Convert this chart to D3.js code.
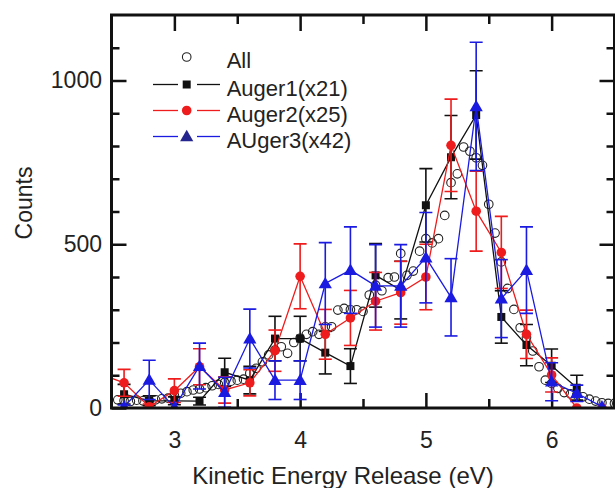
<!DOCTYPE html>
<html><head><meta charset="utf-8">
<script src="https://cdn.jsdelivr.net/npm/d3@7"></script>
<style>body{margin:0;background:#fff}</style>
</head><body><svg id="c" width="615" height="488"></svg>
<script>
// ---- data ----
const xAll = [2.55,2.60,2.65,2.70,2.75,2.80,2.85,2.90,2.95,3.00,3.05,3.10,3.15,3.20,3.25,3.30,3.35,3.40,3.45,3.50,
  3.55,3.60,3.65,3.70,3.75,3.80,3.85,3.90,3.95,4.00,4.05,4.10,4.15,4.20,4.25,4.30,4.35,4.40,4.45,4.50,
  4.55,4.60,4.65,4.70,4.75,4.80,4.85,4.90,4.95,5.00,5.05,5.10,5.15,5.20,5.25,5.30,5.35,5.40,5.45,5.50,
  5.55,5.60,5.65,5.70,5.75,5.80,5.85,5.90,5.95,6.00,6.05,6.10,6.15,6.20,6.25,6.30,6.35,6.40,6.45,6.50];
const allCounts = [25,22,20,24,22,22,25,28,30,38,45,50,55,58,62,68,72,78,82,85,
  88,106,121,141,162,177,187,167,200,213,225,233,225,248,248,299,304,300,300,295,
  345,375,358,398,400,472,405,418,479,517,504,517,588,688,715,797,784,764,741,622,
  534,446,365,301,245,215,174,126,85,75,60,47,43,40,34,27,21,16,14,14];

const xAuger = [2.4,2.6,2.8,3.0,3.2,3.4,3.6,3.8,4.0,4.2,4.4,4.6,4.8,5.0,5.2,5.4,5.6,5.8,6.0,6.2,6.4];
const auger1    = [null,42,22,22,21,109,85,212,212,169,128,405,360,619,766,895,278,192,129,62,null];
const auger1Err = [null,30,15,12,12,43,42,68,68,65,53,97,88,112,127,135,80,63,51,38,null];
const auger2    = [105,77,4,53,126,55,77,175,402,225,275,326,352,400,802,601,475,225,101,0,0];
const auger2Err = [null,41,8,36,55,40,40,63,99,76,84,88,96,100,141,122,110,74,52,0,0];
const auger3    = [null,4,86,2,128,48,212,85,85,380,421,373,373,459,338,921,334,421,80,45,4];
const auger3Err = [null,5,60,0,70,46,90,59,59,125,132,126,126,138,118,196,119,132,58,25,0];

const seriesNames = ["All","Auger1(x21)","Auger2(x25)","AUger3(x42)"];
const seriesColors = ["#111111","#111111","#ee1c1c","#1a1ae0"];
const xMajorTicks = [3,4,5,6];
const xMinorTicks = [3.5,4.5,5.5];
const yMajorTicks = [0,500,1000];
const yMinorTicks = [100,200,300,400,600,700,800,900,1100];
const xTitle = "Kinetic Energy Release (eV)";
const yTitle = "Counts";

// ---- layout ----
const L = 111.5, R = 614.5, T = 15, B = 408;
const FONT = "'Liberation Sans', Arial, Helvetica, sans-serif";
const svg = d3.select("#c");
const x = d3.scaleLinear().domain([2.5, 6.5]).range([L, R]);
const y = d3.scaleLinear().domain([0, 1200]).range([B, T]);

svg.append("defs").append("clipPath").attr("id","clip")
  .append("rect").attr("x",L).attr("y",T).attr("width",R-L).attr("height",B-T);

// ---- axes (ticks inward) ----
function styleAxis(g){
  g.select(".domain").remove();
  g.selectAll(".tick line").attr("stroke","#111").attr("stroke-width",2.5);
  g.selectAll("text").attr("font-family",FONT).attr("font-size",23).attr("fill","#222");
}
svg.append("g").attr("transform",`translate(0,${B})`)
  .call(d3.axisBottom(x).tickValues(xMajorTicks).tickSize(-15).tickPadding(24).tickFormat(d3.format("d")))
  .call(styleAxis);
svg.append("g").attr("transform",`translate(0,${B})`)
  .call(d3.axisBottom(x).tickValues(xMinorTicks).tickSize(-9).tickFormat(""))
  .call(styleAxis);
svg.append("g").attr("transform",`translate(0,${T})`)
  .call(d3.axisTop(x).tickValues(xMajorTicks).tickSize(-16).tickFormat(""))
  .call(styleAxis);
svg.append("g").attr("transform",`translate(0,${T})`)
  .call(d3.axisTop(x).tickValues(xMinorTicks).tickSize(-9).tickFormat(""))
  .call(styleAxis);
svg.append("g").attr("transform",`translate(${L},0)`)
  .call(d3.axisLeft(y).tickValues(yMajorTicks).tickSize(-15).tickPadding(9.5).tickFormat(d3.format("d")))
  .call(styleAxis);
svg.append("g").attr("transform",`translate(${L},0)`)
  .call(d3.axisLeft(y).tickValues(yMinorTicks).tickSize(-8).tickFormat(""))
  .call(styleAxis);
svg.append("g").attr("transform",`translate(${R},0)`)
  .call(d3.axisRight(y).tickValues(yMajorTicks.filter(d=>d>0)).tickSize(-15).tickFormat(""))
  .call(styleAxis);
svg.append("g").attr("transform",`translate(${R},0)`)
  .call(d3.axisRight(y).tickValues(yMinorTicks).tickSize(-8).tickFormat(""))
  .call(styleAxis);

// titles
svg.append("text").attr("x",343).attr("y",484).attr("text-anchor","middle")
  .attr("font-family",FONT).attr("font-size",24).attr("fill","#222").text(xTitle);
svg.append("text").attr("transform","translate(24,203) rotate(-90)").attr("text-anchor","middle")
  .attr("dominant-baseline","central")
  .attr("font-family",FONT).attr("font-size",23).attr("fill","#222").text(yTitle);

// ---- data ----
const plot = svg.append("g").attr("clip-path","url(#clip)");

// All: open circles
plot.append("g").selectAll("circle").data(xAll.map((v,i)=>[v,allCounts[i]])).join("circle")
  .attr("cx",d=>x(d[0])).attr("cy",d=>y(d[1])).attr("r",4.3)
  .attr("fill","none").attr("stroke","#222").attr("stroke-width",1.1);

const seriesDefs = [
  {vals:auger1, errs:auger1Err, color:seriesColors[1], marker:"square"},
  {vals:auger2, errs:auger2Err, color:seriesColors[2], marker:"circle"},
  {vals:auger3, errs:auger3Err, color:seriesColors[3], marker:"triangle"}
];
const line = d3.line().defined(d=>d[1]!==null).x(d=>x(d[0])).y(d=>y(d[1]));
const symSquare = d3.symbol().type(d3.symbolSquare).size(64);
const symCircle = d3.symbol().type(d3.symbolCircle).size(72);
const symTri = d3.symbol().type(d3.symbolTriangle).size(76);

seriesDefs.forEach(s=>{
  const pts = xAuger.map((v,i)=>[v,s.vals[i],s.errs[i]]);
  const g = plot.append("g");
  g.append("path").datum(pts).attr("d",line).attr("fill","none")
    .attr("stroke",s.color).attr("stroke-width",1.3);
  const eb = pts.filter(d=>d[1]!==null && d[2]!==null && d[2]>0);
  g.selectAll("line.v").data(eb).join("line").attr("class","v")
    .attr("x1",d=>x(d[0])).attr("x2",d=>x(d[0]))
    .attr("y1",d=>y(d[1]-d[2])).attr("y2",d=>y(d[1]+d[2]))
    .attr("stroke",s.color).attr("stroke-width",1.6);
  [-1,1].forEach(sg=>{
    g.selectAll("line.c"+(sg>0?"p":"m")).data(eb).join("line").attr("class","c"+(sg>0?"p":"m"))
      .attr("x1",d=>x(d[0])-6.5).attr("x2",d=>x(d[0])+6.5)
      .attr("y1",d=>y(d[1]+sg*d[2])).attr("y2",d=>y(d[1]+sg*d[2]))
      .attr("stroke",s.color).attr("stroke-width",1.6);
  });
  const sym = s.marker==="square"?symSquare:(s.marker==="circle"?symCircle:symTri);
  g.selectAll("path.m").data(pts.filter(d=>d[1]!==null)).join("path").attr("class","m")
    .attr("transform",d=>`translate(${x(d[0])},${y(d[1]) + (s.marker==="triangle"?1:0)})`)
    .attr("d",sym).attr("fill",s.color);
});

// frame
svg.append("rect").attr("x",L).attr("y",T).attr("width",R-L).attr("height",B-T)
  .attr("fill","none").attr("stroke","#111").attr("stroke-width",3);

// ---- legend ----
const legRows = [60,87.5,113.5,139.5];
const leg = svg.append("g");
seriesNames.forEach((name,i)=>{
  const cy = legRows[i];
  const my = cy - 3;
  if(i===0){
    leg.append("circle").attr("cx",186.7).attr("cy",my).attr("r",4.3)
      .attr("fill","none").attr("stroke","#222").attr("stroke-width",1.1);
  } else {
    leg.append("line").attr("x1",153).attr("x2",178).attr("y1",my).attr("y2",my)
      .attr("stroke",seriesColors[i]).attr("stroke-width",1.3);
    leg.append("line").attr("x1",197).attr("x2",220).attr("y1",my).attr("y2",my)
      .attr("stroke",seriesColors[i]).attr("stroke-width",1.3);
    const sym = i===1?symSquare:(i===2?symCircle:symTri);
    leg.append("path").attr("transform",`translate(186.7,${my+(i===3?1:0)})`).attr("d",sym)
      .attr("fill", i===3 ? "#25258f" : seriesColors[i]);
  }
  leg.append("text").attr("x",226.7).attr("y",cy+8).attr("font-family",FONT).attr("font-size",22)
    .attr("fill","#222").text(name);
});
</script></body></html>
